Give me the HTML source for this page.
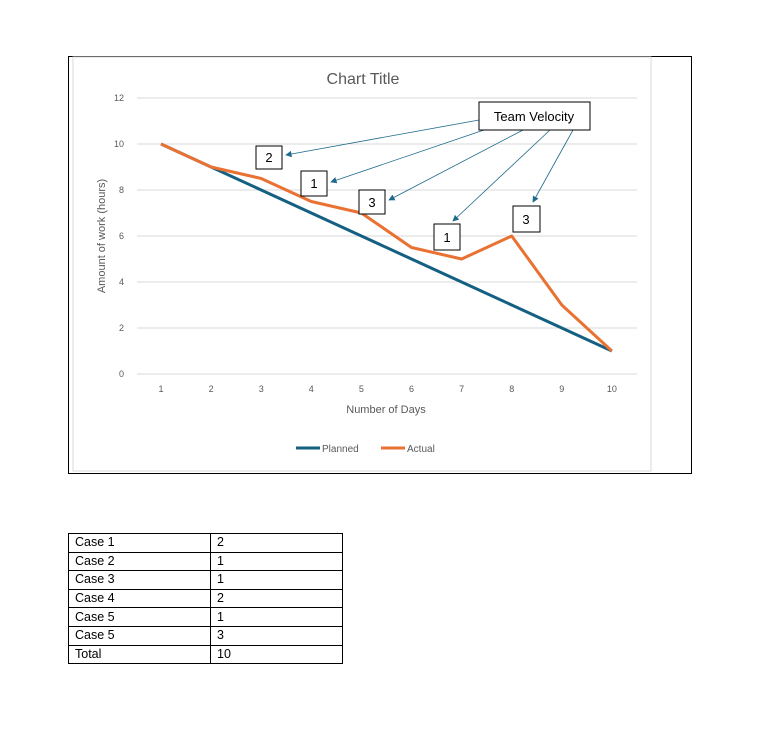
<!DOCTYPE html>
<html><head><meta charset="utf-8"><style>
body{margin:0;background:#fff;width:776px;height:732px;position:relative;font-family:"Liberation Sans",Arial,sans-serif;}
#frame{position:absolute;left:68px;top:56px;width:624px;height:418px;border:1px solid #000;box-sizing:border-box;}
svg{position:absolute;left:0;top:0;}
table{position:absolute;left:68px;top:533px;border-collapse:collapse;font-size:12.5px;}
td{border:1px solid #000;height:17.6px;padding:0 0 0 6px;line-height:17px;}
</style></head><body>
<div id="frame"></div>
<svg width="776" height="500">
<defs><marker id="ah" markerWidth="8" markerHeight="8" refX="7" refY="4" orient="auto"><path d="M0,0 L8,4 L0,8 z" fill="#1f6a8a"/></marker></defs>
<rect x="73" y="57" width="578" height="414" fill="#fff" stroke="#d9d9d9"/>
<text x="363" y="84" font-size="16" fill="#595959" text-anchor="middle">Chart Title</text>
<g id="grid"></g><g id="series"></g>
<text x="386" y="413" font-size="11" fill="#595959" text-anchor="middle">Number of Days</text>
<text transform="translate(105,236) rotate(-90)" font-size="11" fill="#595959" text-anchor="middle">Amount of work (hours)</text>
<g>
<line x1="296" y1="448" x2="320" y2="448" stroke="#156082" stroke-width="3"/>
<text x="322" y="452" font-size="10" fill="#595959">Planned</text>
<line x1="381" y1="448" x2="405" y2="448" stroke="#e97132" stroke-width="3"/>
<text x="407" y="452" font-size="10" fill="#595959">Actual</text>
</g>
<g stroke="#1f6a8a" stroke-width="0.8" marker-end="url(#ah)">
<line x1="479" y1="120" x2="286" y2="155"/><line x1="484" y1="130" x2="331" y2="182"/>
<line x1="523" y1="130" x2="389" y2="200"/><line x1="550" y1="130" x2="453" y2="221"/>
<line x1="573" y1="130" x2="533" y2="202"/>
</g>
<g font-size="13" fill="#000">
<rect x="479" y="102" width="111" height="28" fill="#fff" stroke="#000"/><text x="534" y="121" text-anchor="middle">Team Velocity</text>
<rect x="256" y="146" width="26" height="23" fill="#fff" stroke="#000"/><text x="269" y="162" text-anchor="middle">2</text>
<rect x="301" y="171" width="26" height="25" fill="#fff" stroke="#000"/><text x="314" y="188" text-anchor="middle">1</text>
<rect x="359" y="190" width="26" height="24" fill="#fff" stroke="#000"/><text x="372" y="207" text-anchor="middle">3</text>
<rect x="434" y="224" width="26" height="26" fill="#fff" stroke="#000"/><text x="447" y="242" text-anchor="middle">1</text>
<rect x="513" y="206" width="27" height="26" fill="#fff" stroke="#000"/><text x="526" y="224" text-anchor="middle">3</text>
</g>
</svg>
<table>
<tr><td style="width:135px">Case 1</td><td style="width:125px">2</td></tr>
<tr><td>Case 2</td><td>1</td></tr><tr><td>Case 3</td><td>1</td></tr>
<tr><td>Case 4</td><td>2</td></tr><tr><td>Case 5</td><td>1</td></tr>
<tr><td>Case 5</td><td>3</td></tr><tr><td>Total</td><td>10</td></tr>
</table>
<script>
const days=[1,2,3,4,5,6,7,8,9,10];
const planned=[10,9,8,7,6,5,4,3,2,1];
const actual=[10,9,8.5,7.5,7,5.5,5,6,3,1];
const yTicks=[0,2,4,6,8,10,12];
const NS="http://www.w3.org/2000/svg";
const xs=i=>161+i*50.1, ys=v=>374-v*23;
const g=document.getElementById('grid'), s=document.getElementById('series');
function mk(t,a,p){const e=document.createElementNS(NS,t);for(const k in a)e.setAttribute(k,a[k]);p.appendChild(e);return e;}
yTicks.forEach(v=>{
 const l=mk('line',{x1:137,x2:637,y1:ys(v),y2:ys(v),stroke:'#d9d9d9'},g);
 
 
 const t=mk('text',{x:124,y:ys(v)+3,'font-size':9,fill:'#595959','text-anchor':'end'},g);t.textContent=v;
 
 
});
days.forEach((d,i)=>{const t=mk('text',{x:xs(i),y:392,'font-size':9,fill:'#595959','text-anchor':'middle'},g);t.textContent=d;
 
 });
[[planned,'#156082','planned-line'],[actual,'#e97132','actual-line']].forEach(([arr,c,n])=>{
 const p=mk('polyline',{points:arr.map((v,i)=>xs(i)+','+ys(v)).join(' '),fill:'none',stroke:c,'stroke-width':3,'stroke-linejoin':'round'},s);
 
 
});
</script>
</body></html>
